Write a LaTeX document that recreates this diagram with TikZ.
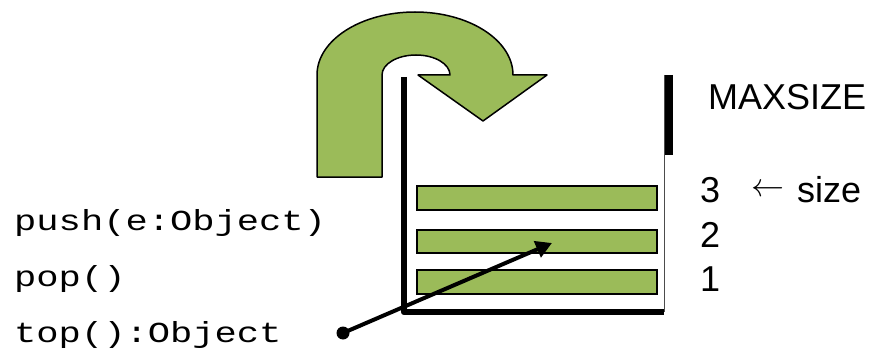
\documentclass[tikz,border=0pt]{standalone}
\usepackage{fontspec}
\setmainfont{Liberation Sans}
\setmonofont{Liberation Mono}
\usetikzlibrary{arrows.meta}
\definecolor{olive}{RGB}{155,187,89}
\tikzset{
  bar/.style={draw=black, line width=1.8pt, fill=olive},
  wall/.style={line width=6.5pt, line join=round},
  lbl/.style={anchor=base west, inner sep=0pt, font=\fontsize{36}{40}\selectfont},
  op/.style={anchor=base west, inner sep=0pt, font=\fontsize{29}{32}\selectfont\ttfamily},
}
\newcommand{\widetxt}[1]{\scalebox{1.28}[1]{#1}}
\begin{document}
\begin{tikzpicture}[x=1pt,y=-1pt]
\useasboundingbox (0,0) rectangle (873,353);
% curved push arrow
\draw[line width=1.5pt, fill=olive, line join=round]
  (317,177) -- (317,75)
  arc[start angle=180, end angle=360, x radius=98, y radius=63]
  -- (547,75) -- (483,121) -- (418,75) -- (450,75)
  arc[start angle=360, end angle=180, x radius=34, y radius=20]
  -- (382,177) -- cycle;
% container walls
\draw[wall] (404,77) -- (404,312) -- (664,312);
\draw[line width=1pt, black!70] (664,75) -- (664,312);
\draw[line width=8pt] (669,75) -- (669,155);
% elements
\node[bar, minimum width=240pt, minimum height=24pt, inner sep=0pt, anchor=north west] (b3) at (416,185) {};
\node[bar, minimum width=240pt, minimum height=23pt, inner sep=0pt, anchor=north west] (b2) at (416,229) {};
\node[bar, minimum width=240pt, minimum height=24pt, inner sep=0pt, anchor=north west] (b1) at (416,269) {};
% labels right
\node[lbl] (max) at (708,109) {MAXSIZE};
\node[lbl] (n3) at (700,202) {3};
\node[anchor=center, inner sep=0pt] (arr) at (768,190) {\resizebox{33pt}{!}{$\leftarrow$}};
\node[lbl] (sz) at (797,202) {size};
\node[lbl] (n2) at (700,247) {2};
\node[lbl] (n1) at (700,291) {1};
% operations
\node[op] (push) at (14,230) {\widetxt{push(e:Object)}};
\node[op] (pop) at (14,286) {\widetxt{pop()}};
\node[op] (top) at (14,342) {\widetxt{top():Object}};
% top pointer
\node[circle, fill=black, inner sep=0pt, minimum size=13pt] (dot) at (343,333) {};
\coordinate (tip) at (552,243);
\draw[line width=4pt, -{Triangle[length=16pt,width=17pt]}] (dot.center) -- (tip);
\end{tikzpicture}
\end{document}
